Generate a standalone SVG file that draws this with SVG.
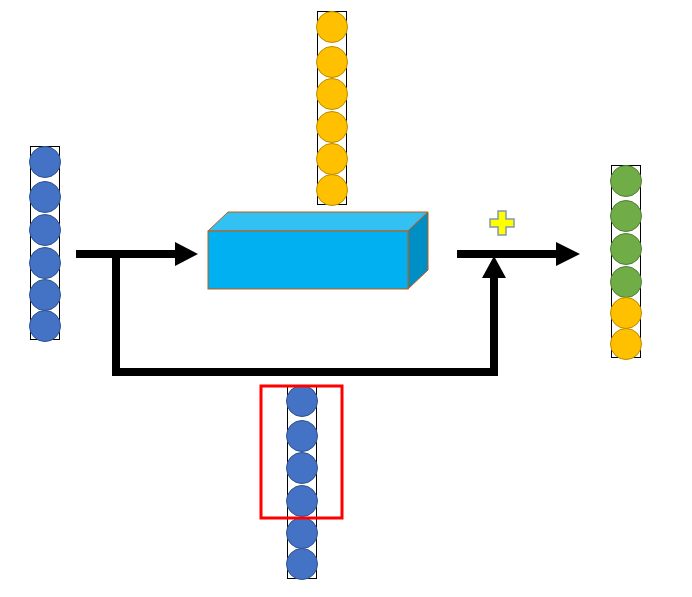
<svg xmlns="http://www.w3.org/2000/svg" width="692" height="597" viewBox="0 0 692 597">
<defs>
<style>
.col{fill:none;stroke:#000;stroke-width:1}
.b{fill:#4472C4;stroke:#2F528F;stroke-width:1}
.o{fill:#FFC000;stroke:#BC8C00;stroke-width:1}
.g{fill:#70AD47;stroke:#507E32;stroke-width:1}
.ln{fill:none;stroke:#000;stroke-width:8}
.ah{fill:#000}
.box{stroke:#C55A11;stroke-width:1}
</style>
</defs>
<rect width="692" height="597" fill="#fff"/>
<g id="input-left">
<rect class="col" x="30.5" y="146.5" width="29" height="193"/>
<circle class="b" cx="45" cy="162" r="15.5"/>
<circle class="b" cx="45" cy="197" r="15.5"/>
<circle class="b" cx="45" cy="230" r="15.5"/>
<circle class="b" cx="45" cy="263" r="15.5"/>
<circle class="b" cx="45" cy="295" r="15.5"/>
<circle class="b" cx="45" cy="326" r="15.5"/>
</g>
<g id="input-top">
<rect class="col" x="317.5" y="11.5" width="29" height="193"/>
<circle class="o" cx="332" cy="27" r="15.5"/>
<circle class="o" cx="332" cy="62" r="15.5"/>
<circle class="o" cx="332" cy="94" r="15.5"/>
<circle class="o" cx="332" cy="127" r="15.5"/>
<circle class="o" cx="332" cy="159" r="15.5"/>
<circle class="o" cx="332" cy="190" r="15.5"/>
</g>
<g id="block">
<polygon class="box" fill="#33C1F3" points="208,231 228,212 428,212 408,231"/>
<polygon class="box" fill="#008FC4" points="408,231 428,212 428,270 408,289"/>
<rect class="box" fill="#00B0F0" x="208" y="231" width="200" height="58"/>
</g>
<g id="output-right">
<rect class="col" x="611.5" y="165.5" width="29" height="192"/>
<circle class="g" cx="626" cy="181" r="15.5"/>
<circle class="g" cx="626" cy="216" r="15.5"/>
<circle class="g" cx="626" cy="249" r="15.5"/>
<circle class="g" cx="626" cy="282" r="15.5"/>
<circle class="o" cx="626" cy="313" r="15.5"/>
<circle class="o" cx="626" cy="344" r="15.5"/>
</g>
<g id="bottom-column">
<rect class="col" x="287.5" y="385.5" width="29" height="193"/>
<circle class="b" cx="302" cy="401" r="15.5"/>
<circle class="b" cx="302" cy="436" r="15.5"/>
<circle class="b" cx="302" cy="468" r="15.5"/>
<circle class="b" cx="302" cy="501" r="15.5"/>
<circle class="b" cx="302" cy="533" r="15.5"/>
<circle class="b" cx="302" cy="564" r="15.5"/>
<rect x="261" y="386" width="81" height="132" fill="none" stroke="#FF0000" stroke-width="3"/>
</g>
<g id="plus">
<polygon fill="#FFFF00" stroke="#8497B0" stroke-width="1.5" points="498,211 506,211 506,219 514,219 514,227 506,227 506,235 498,235 498,227 490,227 490,219 498,219"/>
</g>
<g id="connectors">
<line class="ln" x1="76" y1="254" x2="177" y2="254"/>
<polygon class="ah" points="175,242 198,254 175,266"/>
<polyline class="ln" points="116,254 116,372 494,372 494,276"/>
<polygon class="ah" points="482,278 494,256 506,278"/>
<line class="ln" x1="457" y1="254" x2="558" y2="254"/>
<polygon class="ah" points="556,242 580,254 556,266"/>
</g>
</svg>
